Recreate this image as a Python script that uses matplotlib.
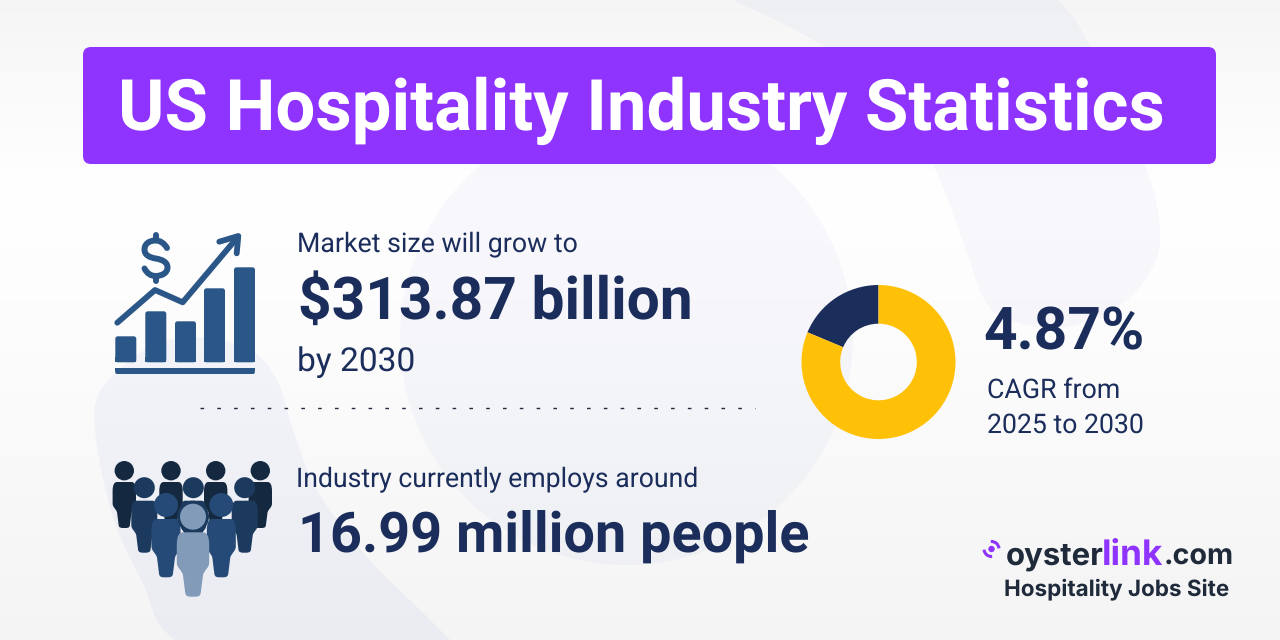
import numpy as np
import matplotlib
matplotlib.use("Agg")
import matplotlib.pyplot as plt
from matplotlib.patches import FancyBboxPatch, Circle, PathPatch, Arc
from matplotlib.path import Path
from matplotlib.textpath import TextPath
from matplotlib.font_manager import FontProperties

plt.rcParams["text.hinting"] = "no_hinting"
plt.rcParams["text.hinting_factor"] = 8

# ---- data ----
TITLE = "US Hospitality Industry Statistics"
MARKET_LINES = ["Market size will grow to", "$313.87 billion", "by 2030"]
EMPLOY_LINES = ["Industry currently employs around", "16.99 million people"]
CAGR_LINES = ["4.87%", "CAGR from", "2025 to 2030"]
DONUT_SHARES = [18.7, 81.3]
ICON_BAR_HEIGHTS = [26, 51, 41, 74, 95]

NAVY = "#1b2d5b"
PURPLE = "#8f33ff"
ICON = "#2b5688"
GOLD = "#ffc107"

W, H = 1280, 640
fig = plt.figure(figsize=(12.8, 6.4), dpi=100)
ax = fig.add_axes([0, 0, 1, 1])
ax.set_xlim(0, W); ax.set_ylim(H, 0); ax.axis("off")

# background gradient: grey at the top, near white at y~190, grey at the bottom
ys = np.arange(H) + 0.5
shade = np.interp(ys, [0, 46, 190, 330, 640], [0.962, 0.972, 1.0, 0.99, 0.958])[:, None]
grad = np.dstack([shade, shade, shade])
ax.imshow(grad, extent=[0, W, H, 0], aspect="auto", zorder=0)

BLOB = "#4f62d2"
BLOB_ALPHA = 0.04

def smooth(points, **kw):
    """closed smooth shape through pixel points"""
    p = np.array(points, float); n = len(p)
    verts = [p[0]]; codes = [Path.MOVETO]
    for i in range(n):
        p0, p1, p2, p3 = p[i-1], p[i], p[(i+1) % n], p[(i+2) % n]
        verts += [p1 + (p2-p0)/6, p2 - (p3-p1)/6, p2]
        codes += [Path.CURVE4]*3
    return PathPatch(Path(verts, codes), **kw)

# faint background shapes
ax.add_patch(Circle((626.5, 338.5), 226.5, fc=BLOB, alpha=BLOB_ALPHA, ec="none", zorder=1))
ax.add_patch(smooth([(660, -30), (733, 0), (823, 46), (885, 100), (933, 165), (967, 253), (983, 297), (1005, 318),
                     (1060, 328), (1117, 307), (1148, 275), (1160, 235), (1145, 165), (1090, 46), (1058, 0), (1000, -50), (800, -60)],
                    fc=BLOB, alpha=BLOB_ALPHA, ec="none", zorder=1))
ax.add_patch(smooth([(95, 430), (103, 387), (150, 347), (200, 337), (250, 350), (277, 380), (293, 430),
                     (317, 490), (367, 557), (417, 607), (450, 640), (480, 670), (300, 700), (175, 640), (143, 583), (113, 517)],
                    fc=BLOB, alpha=BLOB_ALPHA + 0.012, ec="none", zorder=1))

# title bar
ax.add_patch(FancyBboxPatch((91, 55), 1117, 101, boxstyle="round,pad=8,rounding_size=8",
                            fc=PURPLE, ec="none", zorder=2))

def put(x, base, s, width, color=NAVY, weight="regular", family="Roboto"):
    fp = FontProperties(family=family, weight=weight)
    ext = TextPath((0, 0), s, size=100, prop=fp).get_extents()
    px = 100 * width / ext.width
    ax.text(x - 1, base, s, fontsize=px*0.72, color=color, family=family, weight=weight,
            va="baseline", ha="left", zorder=5)

put(119, 130, TITLE, 1040, "white", "bold")
put(298, 251, MARKET_LINES[0], 277)
put(299, 319, MARKET_LINES[1], 389, weight="bold")
put(298, 371, MARKET_LINES[2], 114)
put(297, 487, EMPLOY_LINES[0], 399)
put(299, 552, EMPLOY_LINES[1], 506, weight="bold")
put(984, 349, CAGR_LINES[0], 157, weight="bold")
put(988, 398, CAGR_LINES[1], 130)
put(988, 433, CAGR_LINES[2], 154)

# dashed divider
ax.plot([200, 755], [408, 408], color="#222a3e", lw=1.0, dashes=(2.6, 9.5), zorder=3)

# growth icon
LEFTS = [115.3, 145.3, 175, 204, 234]
for left, h in zip(LEFTS, ICON_BAR_HEIGHTS):
    ax.add_patch(FancyBboxPatch((left+2.5, 362.3-h+2.5), 16, h-5,
                 boxstyle="round,pad=2.5,rounding_size=2.5", fc=ICON, ec="none", zorder=3))
    ax.add_patch(plt.Rectangle((left, 357), 21, 5.3, fc=ICON, ec="none", zorder=3))
ax.add_patch(FancyBboxPatch((117, 369.8), 136, 2.4, boxstyle="round,pad=1.8,rounding_size=1.8",
                            fc=ICON, ec="none", zorder=3))
ax.add_patch(plt.Rectangle((115.2, 368.2), 139.6, 3, fc=ICON, ec="none", zorder=3))
ax.plot([117.3, 155, 182.7, 236.7], [322.7, 290, 302.3, 238.3], color=ICON, lw=4.2,
        solid_capstyle="round", solid_joinstyle="round", zorder=3)
ax.plot([219.3, 238.3, 236.7], [241.7, 236, 253.3], color=ICON, lw=4.2,
        solid_capstyle="round", solid_joinstyle="round", zorder=3)
# dollar sign drawn as strokes
S = Path([(167, 248), (164, 243), (160, 240.5), (155.7, 240.5),
          (149, 240.5), (144.5, 244), (144.5, 249.5),
          (144.5, 255), (149.5, 257.5), (155.7, 258.5),
          (162, 259.5), (167.5, 262), (167.5, 267.5),
          (167.5, 272.5), (162.5, 276), (155.7, 276),
          (151, 276), (147, 273.5), (144.5, 268.5)],
         [Path.MOVETO] + [Path.CURVE4]*18)
ax.add_patch(PathPatch(S, fc="none", ec=ICON, lw=4.3, capstyle="round", zorder=3))
ax.plot([155.7, 155.7], [235, 240], color=ICON, lw=4.3, solid_capstyle="round", zorder=3)
ax.plot([155.7, 155.7], [276, 281], color=ICON, lw=4.3, solid_capstyle="round", zorder=3)

# people icon
def body(cx, top_y, hw, h):
    v = [(-0.62, 0.0), (0.62, 0.0),
         (0.86, 0.0), (1.0, 0.06), (1.0, 0.20),
         (1.0, 0.33), (1.0, 0.42), (1.0, 0.47),
         (1.0, 0.55), (0.72, 0.58), (0.62, 0.66),
         (0.56, 0.76), (0.52, 0.88), (0.48, 0.94),
         (0.44, 1.0), (0.3, 1.0), (0.0, 1.0),
         (-0.3, 1.0), (-0.44, 1.0), (-0.48, 0.94),
         (-0.52, 0.88), (-0.56, 0.76), (-0.62, 0.66),
         (-0.72, 0.58), (-1.0, 0.55), (-1.0, 0.47),
         (-1.0, 0.42), (-1.0, 0.33), (-1.0, 0.20),
         (-1.0, 0.06), (-0.86, 0.0), (-0.62, 0.0)]
    pts = [(cx + a*hw, top_y + b*h) for a, b in v]
    codes = [Path.MOVETO, Path.LINETO] + [Path.CURVE4]*(len(pts)-2)
    return Path(pts, codes)

def person(cx, head_y, r, top_y, hw, h, color, z):
    ax.add_patch(PathPatch(body(cx, top_y, hw, h), fc=color, ec="none", zorder=z))
    ax.add_patch(Circle((cx, head_y), r, fc=color, ec="none", zorder=z))

for cx in [124.3, 171, 215.7, 260.3]:
    person(cx, 470.7, 9.7, 482, 11.7, 46, "#14293f", 3.0)
for cx in [144.3, 193.3, 244.7]:
    person(cx, 487.7, 10.5, 500.7, 13, 52, "#1c3a5e", 3.1)
for cx in [166, 221.3]:
    person(cx, 505, 12, 519, 14.5, 58.3, "#264a77", 3.2)
ax.add_patch(Circle((193, 516.7), 16, fc="#1c3a5e", ec="none", zorder=3.25))
person(193, 516.7, 13, 532.3, 16.2, 64.4, "#829bb9", 3.3)

# logo
ax.add_patch(Circle((991.5, 549), 3.2, fc=PURPLE, ec="none", zorder=4))
ax.add_patch(Arc((991.5, 549), 15, 15, angle=-30, theta1=-65, theta2=25, lw=2.2, color=PURPLE, zorder=4))
ax.add_patch(Arc((991.5, 549), 15, 15, angle=150, theta1=-65, theta2=25, lw=2.2, color=PURPLE, zorder=4))
put(1007, 565, "oyster", 96, "#1f2a3a", "bold", "Inter")
put(1103, 565, "link", 59, PURPLE, "bold", "Inter")
put(1165, 565, ".com", 66, "#1f2a3a", "bold", "Inter")
put(1005, 595, "Hospitality Jobs Site", 223, "#1f2a3a", "bold", "Inter")

ax.set_xlim(0, W); ax.set_ylim(H, 0)

# donut
cx, cy, R = 878.5, 362, 77
dax = fig.add_axes([(cx-R)/W, 1-(cy+R)/H, 2*R/W, 2*R/H])
dax.pie(DONUT_SHARES, colors=[NAVY, GOLD], startangle=90, radius=1,
        wedgeprops=dict(width=1-38.3/77, linewidth=0))
dax.set_xlim(-1, 1); dax.set_ylim(-1, 1); dax.set_aspect("equal"); dax.axis("off")
dax.patch.set_alpha(0)

fig.savefig("out.png", dpi=100)
